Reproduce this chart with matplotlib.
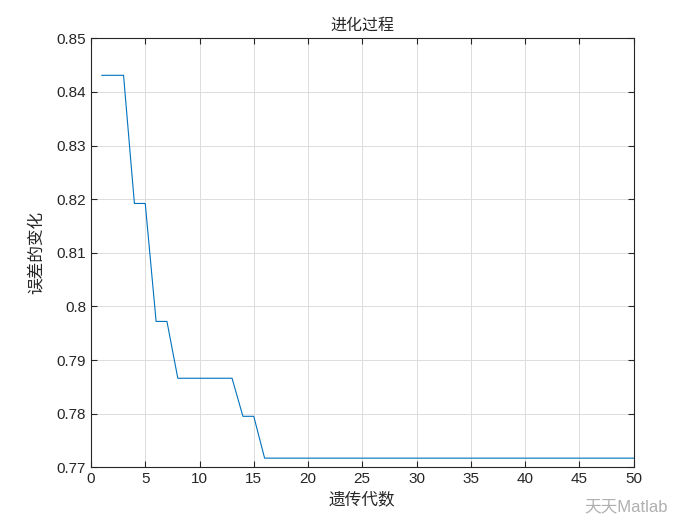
import numpy as np
import matplotlib
matplotlib.use("Agg")
import matplotlib.pyplot as plt

plt.rcParams['font.family'] = ['Liberation Sans', 'Noto Sans CJK SC', 'DejaVu Sans']

# generations and best error per generation
gen = list(range(1, 51))
err = [0.8431] * 3 + [0.8192] * 2 + [0.7972] * 2 + [0.7866] * 6 + [0.7795] * 2 + [0.7717] * 35

fig = plt.figure(figsize=(7, 5.25), dpi=100)
ax = fig.add_axes([0.13, 0.11, 0.775, 0.817])

ax.plot(gen, err, color='#0072BD', linewidth=0.8)

ax.set_xlim(0, 50)
ax.set_ylim(0.77, 0.85)
ax.set_xticks(np.arange(0, 51, 5))
ax.set_yticks(np.arange(0.77, 0.8501, 0.01))
ax.set_yticklabels(['0.77', '0.78', '0.79', '0.8', '0.81', '0.82', '0.83', '0.84', '0.85'])
ax.grid(True, color='#dcdcdc', linewidth=0.7)
ax.tick_params(direction='in', length=4, labelsize=11, colors='#262626', top=True, right=True)
for s in ax.spines.values():
    s.set_color('#262626')
    s.set_linewidth(0.8)

ax.set_title('进化过程', fontsize=11.5, color='#262626', pad=6)
ax.set_xlabel('遗传代数', fontsize=12, color='#262626')
ax.set_ylabel('误差的变化', fontsize=12, color='#262626', labelpad=9)

# watermark
fig.text(0.835, 0.025, '天天Matlab', fontsize=12, color='#b0b0b0')

fig.savefig('out.png', dpi=100)
